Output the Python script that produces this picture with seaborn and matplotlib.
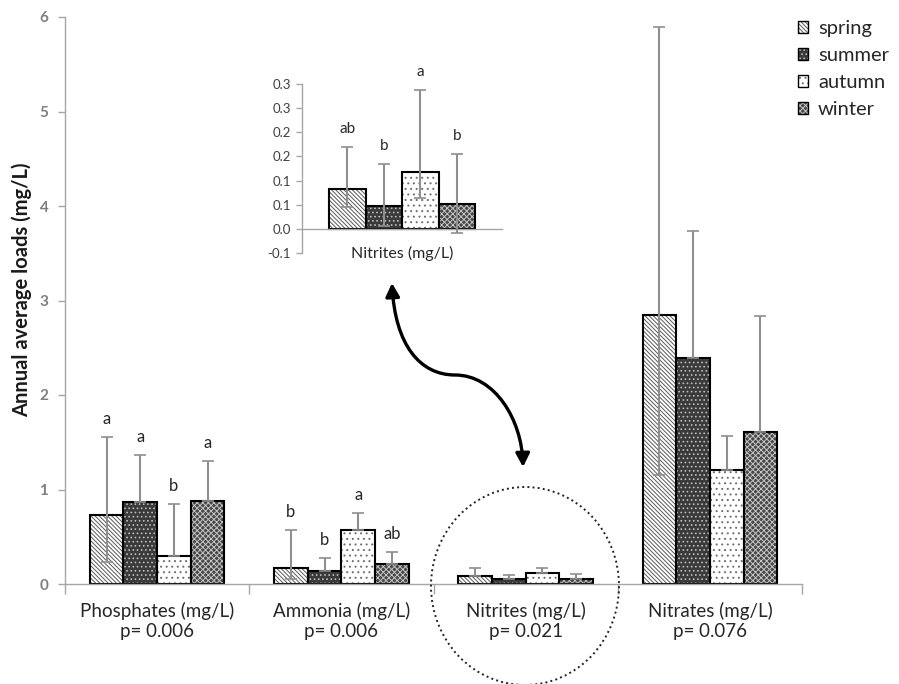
import numpy as np
import pandas as pd
import matplotlib
matplotlib.use("Agg")
import matplotlib.pyplot as plt
import seaborn as sns
from matplotlib.patches import Patch, Rectangle, Ellipse, FancyArrowPatch
from matplotlib.path import Path

sns.set_theme(style="white")
plt.rcParams["font.family"] = ["Lato", "DejaVu Sans"]
plt.rcParams["hatch.linewidth"] = 0.7

# ---- data -----------------------------------------------------------------
seasons = ["spring", "summer", "autumn", "winter"]
categories = [
    "Phosphates (mg/L)\np= 0.006",
    "Ammonia (mg/L)\np= 0.006",
    "Nitrites (mg/L)\np= 0.021",
    "Nitrates (mg/L)\np= 0.076",
]

phosphates = [0.73, 0.87, 0.30, 0.88]
ammonia = [0.166, 0.141, 0.575, 0.212]
nitrites = [0.082, 0.048, 0.118, 0.051]
nitrates = [2.85, 2.39, 1.206, 1.605]

phosphates_err_hi = [0.83, 0.49, 0.55, 0.42]
ammonia_err_hi = [0.402, 0.138, 0.173, 0.130]
nitrites_err_hi = [0.085, 0.045, 0.050, 0.055]
nitrates_err_hi = [3.04, 1.35, 0.364, 1.235]

phosphates_err_lo = [0.50, 0.0, 0.0, 0.0]
ammonia_err_lo = [0.116, 0.0, 0.0, 0.0]
nitrites_err_lo = [0.0, 0.0, 0.0, 0.0]
nitrates_err_lo = [1.70, 0.0, 0.0, 0.0]

# nitrites close-up whiskers
nitrites_zoom_err_hi = [0.088, 0.087, 0.169, 0.103]
nitrites_zoom_err_lo = [0.036, 0.043, 0.054, 0.059]

phosphates_letters = ["a", "a", "b", "a"]
ammonia_letters = ["b", "b", "a", "ab"]
nitrites_letters = ["ab", "b", "a", "b"]

inset_ticks = [-0.05, 0.0, 0.05, 0.10, 0.15, 0.20, 0.25, 0.30]
inset_ticklabels = ["-0.1", "0.0", "0.1", "0.1", "0.2", "0.2", "0.3", "0.3"]

# ---- fill styles per season ----------------------------------------------
face = {"spring": "#ffffff", "summer": "#3a3a3a", "autumn": "#ffffff", "winter": "#474747"}
hatch = {"spring": "\\" * 8, "summer": "....", "autumn": "...", "winter": "xxxxxx"}
hatch_col = {"spring": "#5a5a5a", "summer": "#bdbdbd", "autumn": "#6e6e6e", "winter": "#c4c4c4"}

AXIS_GREY = "#a6a6a6"
ERR_GREY = "#8f8f8f"


def styled_bars(ax, df, order, width):
    sns.barplot(data=df, x="category", y="value", hue="season", order=order,
                hue_order=seasons, palette=face, width=width, errorbar=None,
                saturation=1, legend=False, ax=ax)
    centers = {}
    for season, cont in zip(seasons, ax.containers):
        xs = []
        for p in cont:
            p.set_hatch(hatch[season])
            p.set_edgecolor(hatch_col[season])
            p.set_linewidth(0)
            ax.add_patch(Rectangle(p.get_xy(), p.get_width(), p.get_height(),
                                   fill=False, ec="black", lw=1.5,
                                   zorder=p.get_zorder() + 0.1))
            xs.append(p.get_x() + p.get_width() / 2)
        centers[season] = xs
    return centers


def whiskers(ax, x, y, lo, hi, cap=4.5):
    eb = ax.errorbar(x, y, yerr=[lo, hi], fmt="none", ecolor=ERR_GREY,
                     elinewidth=1.5, capsize=cap, capthick=1.2, zorder=5)
    for c in eb[1]:
        c.set_color("#4d4d4d")


def letters(ax, x, top, labels, size=12):
    for xi, ti, lab in zip(x, top, labels):
        ax.annotate(lab, (xi, ti), xytext=(0, 13), textcoords="offset points",
                    ha="center", va="center", fontsize=size, color="#262626")


# ---- main chart -----------------------------------------------------------
fig = plt.figure(figsize=(8.99, 6.84), dpi=100)
ax = fig.add_axes([65 / 899, 1 - 584 / 684, 737 / 899, 567 / 684])

df = pd.DataFrame({
    "category": np.repeat(categories, len(seasons)),
    "season": seasons * len(categories),
    "value": phosphates + ammonia + nitrites + nitrates,
})
centers = styled_bars(ax, df, categories, 0.73)

groups = [
    (phosphates, phosphates_err_lo, phosphates_err_hi, phosphates_letters),
    (ammonia, ammonia_err_lo, ammonia_err_hi, ammonia_letters),
    (nitrites, nitrites_err_lo, nitrites_err_hi, None),
    (nitrates, nitrates_err_lo, nitrates_err_hi, None),
]
for ci, (vals, lo, hi, labs) in enumerate(groups):
    xs = [centers[s][ci] for s in seasons]
    whiskers(ax, xs, vals, lo, hi)
    if labs:
        letters(ax, xs, [v + h for v, h in zip(vals, hi)], labs)

ax.set_xlim(-0.5, 3.5)
ax.set_ylim(0, 6)
ax.set_yticks(range(7))
ax.set_xlabel("")
ax.set_ylabel("")
for s in ["top", "right"]:
    ax.spines[s].set_visible(False)
for s in ["left", "bottom"]:
    ax.spines[s].set_color(AXIS_GREY)
    ax.spines[s].set_linewidth(1.0)
ax.tick_params(axis="y", left=True, direction="out", length=5, width=1,
               color=AXIS_GREY, labelcolor="#7f7f7f", labelsize=11, pad=7)
for t in ax.get_yticklabels():
    t.set_fontweight("bold")
ax.tick_params(axis="x", which="major", bottom=False, length=0, pad=13,
               labelsize=13.5, labelcolor="#262626")
ax.set_xticks(np.arange(-0.5, 4.0, 1.0), minor=True)
ax.tick_params(axis="x", which="minor", bottom=True, direction="out",
               length=7, width=1, color=AXIS_GREY)

fig.text(22 / 899, 1 - 290 / 684, "Annual average loads (mg/L)", rotation=90,
         ha="center", va="center", fontsize=14.5, fontweight="bold",
         color="#1a1a1a")

# ---- nitrites close-up ----------------------------------------------------
ax2 = fig.add_axes([302 / 899, 1 - 253 / 684, 200 / 899, 169 / 684])
df2 = pd.DataFrame({"category": ["Nitrites (mg/L)"] * len(seasons),
                    "season": seasons, "value": nitrites})
c2 = styled_bars(ax2, df2, ["Nitrites (mg/L)"], 0.73)
xs2 = [c2[s][0] for s in seasons]
whiskers(ax2, xs2, nitrites, nitrites_zoom_err_lo, nitrites_zoom_err_hi, cap=4.5)
letters(ax2, xs2, [v + h for v, h in zip(nitrites, nitrites_zoom_err_hi)],
        nitrites_letters, size=11)

ax2.set_xlim(-0.5, 0.5)
ax2.set_ylim(-0.05, 0.30)
ax2.set_yticks(inset_ticks)
ax2.set_yticklabels(inset_ticklabels)
ax2.set_xticks([])
ax2.set_xlabel("")
ax2.set_ylabel("")
ax2.patch.set_alpha(0)
for s in ["top", "right"]:
    ax2.spines[s].set_visible(False)
ax2.spines["bottom"].set_position(("data", 0))
for s in ["left", "bottom"]:
    ax2.spines[s].set_color(AXIS_GREY)
    ax2.spines[s].set_linewidth(1.0)
ax2.tick_params(axis="y", left=True, direction="out", length=4, width=1,
                color=AXIS_GREY, labelcolor="#404040", labelsize=9.5, pad=4)
ax2.text(0, -0.05, "Nitrites (mg/L)", ha="center", va="center",
         fontsize=11.5, color="#262626")

# ---- legend ---------------------------------------------------------------
handles = [
    (Patch(facecolor=face[s], hatch=hatch[s], edgecolor=hatch_col[s], lw=0),
     Patch(fill=False, edgecolor="black", lw=1.0))
    for s in seasons
]
fig.legend(handles, seasons, loc="upper left",
           bbox_to_anchor=(798 / 899, 1 - 20 / 684), frameon=False,
           fontsize=14.5, handlelength=0.5, handleheight=0.5,
           handletextpad=0.5, labelspacing=0.5, borderpad=0,
           borderaxespad=0, labelcolor="#262626")

# ---- highlight ring and connecting arrow ----------------------------------
fig.add_artist(Ellipse((525 / 899, 1 - 586 / 684), 188 / 899, 198 / 684,
                       transform=fig.transFigure, fill=False, ls=":",
                       lw=1.4, ec="#222222"))


def fpt(x, y):
    return (x / 899, 1 - y / 684)


verts = [fpt(392, 283), fpt(395, 345), fpt(420, 375), fpt(455, 375),
         fpt(495, 375), fpt(522, 420), fpt(523, 467)]
codes = [Path.MOVETO] + [Path.CURVE4] * 6
arrow = FancyArrowPatch(path=Path(verts, codes), transform=fig.transFigure,
                        arrowstyle="<|-|>,head_length=5,head_width=2.6",
                        lw=2.4, color="black", mutation_scale=1.6)
fig.add_artist(arrow)

fig.savefig("out.png", dpi=100)
